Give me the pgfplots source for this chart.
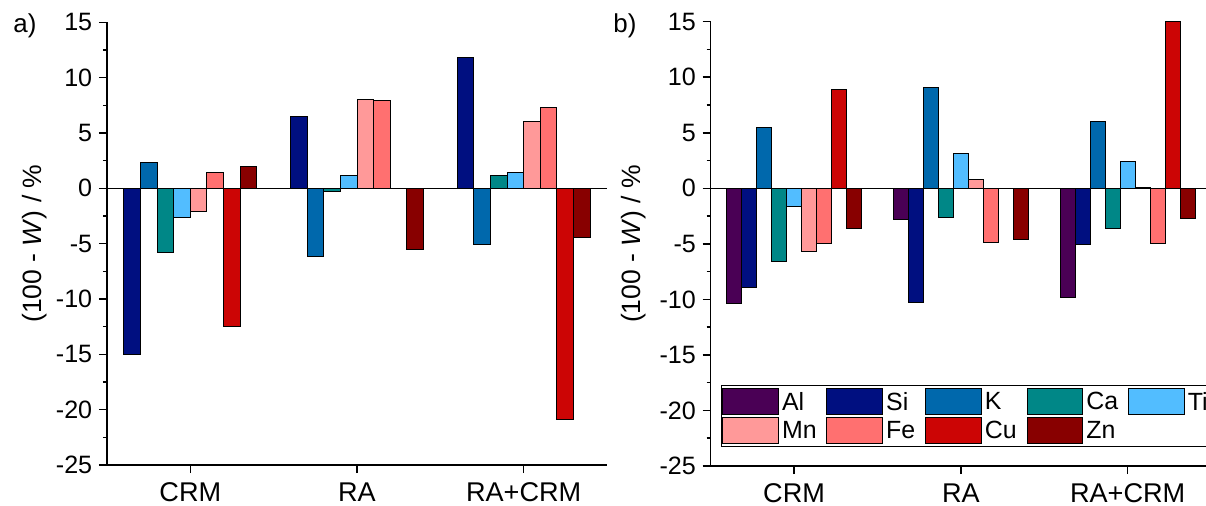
\documentclass[border=0pt]{standalone}
\usepackage{pgfplots}
\pgfplotsset{compat=1.18}
\usepackage{pgfplotstable}
\usepackage{fontspec}
\setmainfont{Liberation Sans}

\definecolor{cAl}{HTML}{4A0055}
\definecolor{cSi}{HTML}{000F80}
\definecolor{cK}{HTML}{0068AC}
\definecolor{cCa}{HTML}{008787}
\definecolor{cTi}{HTML}{52BDFF}
\definecolor{cMn}{HTML}{FF9999}
\definecolor{cFe}{HTML}{FF7070}
\definecolor{cCu}{HTML}{CC0505}
\definecolor{cZn}{HTML}{880000}

\pgfplotstableread{
x Si K Ca Ti Mn Fe Cu Zn
0 -15.0 2.3 -5.8 -2.6 -2.1 1.4 -12.5 2.0
1 6.5 -6.2 -0.3 1.2 8.0 7.9 nan -5.5
2 11.8 -5.1 1.2 1.4 6.0 7.3 -20.9 -4.4
}\tA

\pgfplotstableread{
x Al Si K Ca Ti Mn Fe Cu Zn
0 -10.4 -8.9 5.5 -6.6 -1.6 -5.7 -5.0 8.9 -3.6
1 -2.8 -10.3 9.1 -2.6 3.1 0.8 -4.9 nan -4.6
2 -9.8 -5.1 6.0 -3.6 2.4 0.1 -5.0 15.0 -2.7
}\tB

\pgfplotsset{
  myaxis/.style={
    scale only axis,
    anchor=south west,
    ybar=0pt,
    axis x line*=bottom,
    axis y line*=left,
    axis line style={line width=0.75bp},
    ymin=-25, ymax=15,
    ytick={-25,-20,...,15},
    minor y tick num=1,
    xtick={0,1,2},
    xticklabels={CRM,RA,RA+CRM},
    xmin=-0.5,
    tick align=outside,
    major tick length=4bp,
    minor tick length=2bp,
    tick style={black, line width=0.75bp},
    /pgf/number format/assume math mode=true,
    yticklabel style={font=\fontsize{12.6}{14}\selectfont, inner xsep=3.2bp},
    xticklabel style={font=\fontsize{13.6}{15}\selectfont, inner ysep=4.6bp},
    every axis plot/.append style={draw=black, line width=0.5bp},
    ylabel={(100 - \textit{W}) / \%},
    clip=false,
  }
}

\begin{document}
\begin{tikzpicture}
\path[use as bounding box] (0,0) rectangle (603bp,253bp);

% Panel a
\begin{axis}[myaxis,
  at={(53.5bp,20.5bp)},
  width=250bp, height=221.35bp,
  xmax=2.5,
  bar width=8.33bp,
  every axis y label/.style={at={(axis description cs:-0.145,0.5)},rotate=90,anchor=center,font=\fontsize{13.3}{15}\selectfont},
]
\draw[black, line width=0.75bp] (axis cs:-0.5,0) -- (axis cs:2.5,0);
\addplot[fill=cSi] table[x=x,y=Si]{\tA};
\addplot[fill=cK]  table[x=x,y=K]{\tA};
\addplot[fill=cCa] table[x=x,y=Ca]{\tA};
\addplot[fill=cTi] table[x=x,y=Ti]{\tA};
\addplot[fill=cMn] table[x=x,y=Mn]{\tA};
\addplot[fill=cFe] table[x=x,y=Fe]{\tA};
\addplot[fill=cCu] table[x=x,y=Cu]{\tA};
\addplot[fill=cZn] table[x=x,y=Zn]{\tA};
\end{axis}

% Panel b
\begin{axis}[myaxis,
  at={(355.35bp,20bp)},
  width=247.65bp, height=222.15bp,
  xmax=2.47,
  bar width=7.5bp,
  every axis y label/.style={at={(axis description cs:-0.155,0.5)},rotate=90,anchor=center,font=\fontsize{13.3}{15}\selectfont},
  legend columns=5,
  legend cell align=left,
  legend image code/.code={\draw[#1] (0bp,-6bp) rectangle (27.8bp,7bp);},
  legend style={at={(axis description cs:0.0202,0.1823)}, anchor=north west,
    draw=black, line width=0.5bp, fill=white,
    font=\fontsize{12.5}{14}\selectfont,
    inner xsep=0.5bp, inner ysep=1.3bp,
    nodes={inner xsep=1.6bp, inner ysep=0.8bp},
    row sep=0.9bp,
    /tikz/every even column/.append style={column sep=3.3bp}},
]
\draw[black, line width=0.75bp] (axis cs:-0.5,0) -- (axis cs:2.47,0);
\addplot[fill=cAl] table[x=x,y=Al]{\tB};
\addplot[fill=cSi] table[x=x,y=Si]{\tB};
\addplot[fill=cK]  table[x=x,y=K]{\tB};
\addplot[fill=cCa] table[x=x,y=Ca]{\tB};
\addplot[fill=cTi] table[x=x,y=Ti]{\tB};
\addplot[fill=cMn] table[x=x,y=Mn]{\tB};
\addplot[fill=cFe] table[x=x,y=Fe]{\tB};
\addplot[fill=cCu] table[x=x,y=Cu]{\tB};
\addplot[fill=cZn] table[x=x,y=Zn]{\tB};
\legend{Al,Si,K,Ca,Ti,Mn,Fe,Cu,Zn}
\end{axis}

\node[font=\fontsize{13}{15}\selectfont] at (12.5bp,240bp) {a)};
\node[font=\fontsize{13}{15}\selectfont] at (312.5bp,240bp) {b)};
\end{tikzpicture}
\end{document}
